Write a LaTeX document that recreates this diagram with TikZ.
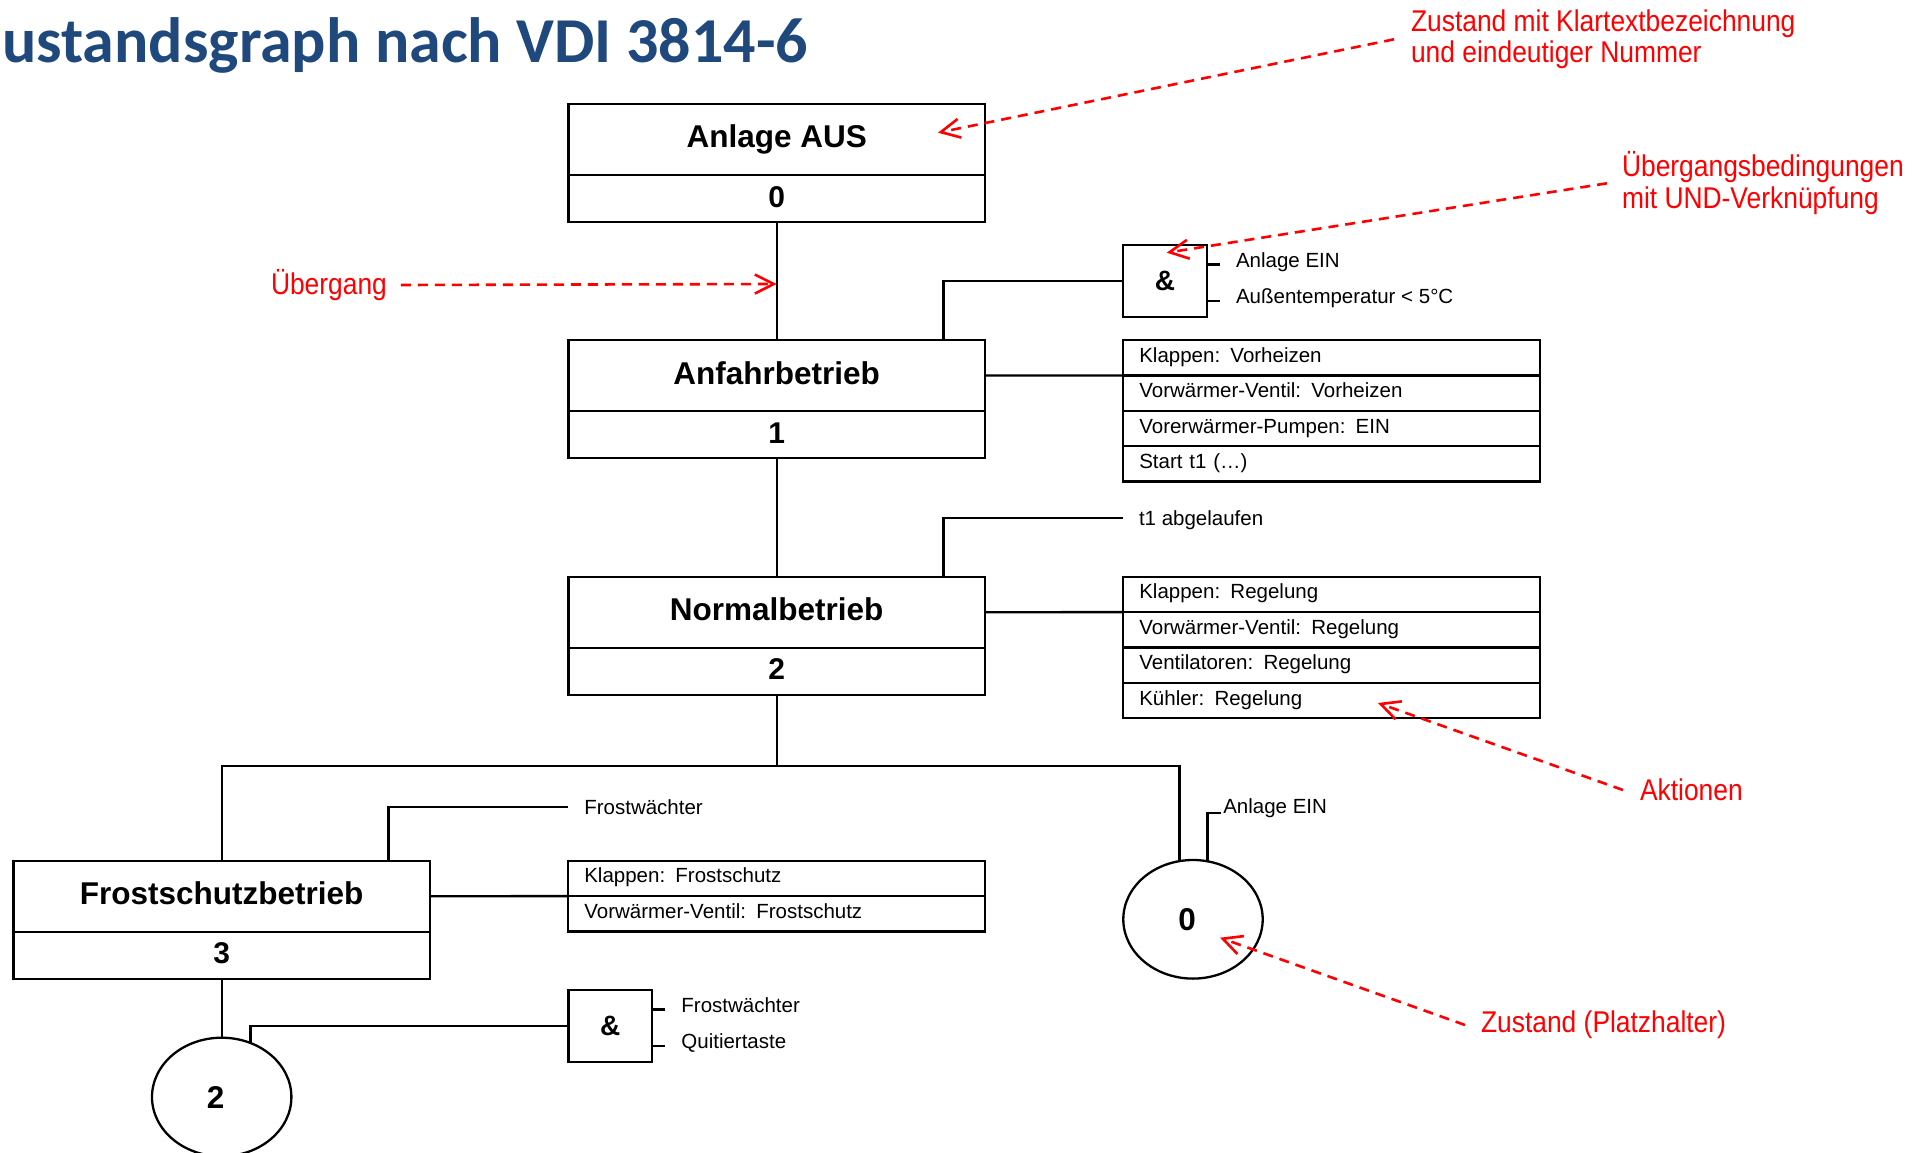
\documentclass[tikz,border=0pt]{standalone}
\usepackage{fontspec}
\setmainfont{Liberation Sans}
\newfontfamily\titlefont{Carlito}
\newfontfamily\redfont[FakeStretch=0.88]{Liberation Sans}
\usetikzlibrary{shapes.geometric,arrows.meta,calc}
\definecolor{titleblue}{RGB}{31,73,125}
\definecolor{annred}{RGB}{255,0,0}
\begin{document}
\begin{tikzpicture}[x=1pt,y=-1pt,
  every node/.style={outer sep=0pt},
  ln/.style={line width=2.3pt},
  stitle/.style={draw, line width=2.3pt, minimum width=416.7pt, minimum height=71pt, inner sep=0pt,
    text height=23pt, text depth=6pt, font=\fontsize{31.5}{36}\selectfont\bfseries},
  snum/.style={draw, line width=2.3pt, minimum width=416.7pt, minimum height=47.3pt, inner sep=0pt,
    text height=23pt, text depth=6pt, anchor=north, font=\fontsize{30}{36}\selectfont\bfseries},
  actrow/.style={draw, line width=2.3pt, anchor=north west, minimum height=35.4pt, text width=384.7pt,
    inner xsep=16pt, inner ysep=0pt, text height=14pt, text depth=5pt, align=left,
    font=\fontsize{20.5}{24}\selectfont},
  gate/.style={draw, line width=2.3pt, minimum width=83.4pt, minimum height=71.7pt, inner sep=0pt,
    font=\fontsize{28}{32}\selectfont\bfseries},
  lbl/.style={inner xsep=16pt, inner ysep=0pt, text height=14.6pt, text depth=0pt, anchor=west,
    font=\fontsize{20.5}{24}\selectfont},
  pstate/.style={draw, ellipse, line width=2.3pt, minimum width=139.4pt, minimum height=118.6pt,
    inner sep=0pt, font=\fontsize{31.5}{36}\selectfont\bfseries},
  ann/.style={inner sep=0pt, text=annred, align=left, font=\redfont\fontsize{30}{31.7}\selectfont},
  annarrow/.style={draw=annred, line width=2.6pt, dash pattern=on 10pt off 7pt,
    -{Straight Barb[length=19pt,width=19pt]}}
]
\useasboundingbox (0,0) rectangle (1912,1153);

% title
\node[anchor=base west, inner sep=0pt, text=titleblue,
  font={\titlefont\bfseries\fontsize{64}{70}\selectfont}] (title) at (2,63) {ustandsgraph nach VDI 3814-6};

% state boxes
\node[stitle] (s0t) at (776.7,139.5) {Anlage AUS};
\node[snum] (s0n) at (s0t.south) {0};
\node[stitle] (s1t) at (776.7,375.5) {Anfahrbetrieb};
\node[snum] (s1n) at (s1t.south) {1};
\node[stitle] (s2t) at (776.7,612.2) {Normalbetrieb};
\node[snum] (s2n) at (s2t.south) {2};
\node[stitle] (s3t) at (221.7,896.2) {Frostschutzbetrieb};
\node[snum] (s3n) at (s3t.south) {3};

% placeholder states
\node[pstate] (c0) at (1193,919.3) {\hspace*{-12pt}0};
\node[pstate] (c2) at (221.7,1097) {\hspace*{-12pt}2};

% actions
\node[actrow] (a1a) at (1123.3,340) {Klappen: Vorheizen};
\node[actrow] (a1b) at (a1a.south west) {Vorwärmer-Ventil: Vorheizen};
\node[actrow] (a1c) at (a1b.south west) {Vorerwärmer-Pumpen: EIN};
\node[actrow] (a1d) at (a1c.south west) {Start t1 (…)};

\node[actrow] (a2a) at (1123.3,576.7) {Klappen: Regelung};
\node[actrow] (a2b) at (a2a.south west) {Vorwärmer-Ventil: Regelung};
\node[actrow] (a2c) at (a2b.south west) {Ventilatoren: Regelung};
\node[actrow] (a2d) at (a2c.south west) {Kühler: Regelung};

\node[actrow] (a3a) at (568.3,860.7) {Klappen: Frostschutz};
\node[actrow] (a3b) at (a3a.south west) {Vorwärmer-Ventil: Frostschutz};

% gates
\node[gate] (g1) at (1165,280.9) {\&};
\node[gate] (g2) at (610.3,1025.9) {\&};

\coordinate (g1i1) at ($(g1.north east)!0.27!(g1.south east)$);
\coordinate (g1i2) at ($(g1.north east)!0.78!(g1.south east)$);
\node[lbl] (g1l1) at ($(g1i1)+(13.3,-4)$) {Anlage EIN};
\node[lbl] (g1l2) at ($(g1i2)+(13.3,-5)$) {Außentemperatur \textless{} 5°C};
\draw[ln] (g1i1) -- (g1i1 -| g1l1.west);
\draw[ln] (g1i2) -- (g1i2 -| g1l2.west);

\coordinate (g2i1) at ($(g2.north east)!0.27!(g2.south east)$);
\coordinate (g2i2) at ($(g2.north east)!0.78!(g2.south east)$);
\node[lbl] (g2l1) at ($(g2i1)+(13.4,-4)$) {Frostwächter};
\node[lbl] (g2l2) at ($(g2i2)+(13.4,-5)$) {Quitiertaste};
\draw[ln] (g2i1) -- (g2i1 -| g2l1.west);
\draw[ln] (g2i2) -- (g2i2 -| g2l2.west);

% transition labels
\node[lbl] (t1l) at (1123,517.7) {t1 abgelaufen};
\node[lbl] (fwl) at (568.3,806.7) {Frostwächter};
\node[lbl, anchor=base west, inner xsep=2.6pt] (c0l) at (1220.7,813.3) {Anlage EIN};

% connectors
\draw[ln] (s0n.south) -- (s1t.north);
\draw[ln] (s1n.south) -- (s2t.north);
\draw[ln] ($(s1t.north west)!0.9!(s1t.north east)$) |- (g1.west);
\draw[ln] (s1t.east) -- (a1a.south west);
\draw[ln] ($(s2t.north west)!0.9!(s2t.north east)$) |- (t1l.west);
\draw[ln] (s2t.east) -- (a2a.south west);
\coordinate (bus) at (776.7,765.7);
\draw[ln] (s2n.south) -- (bus);
\draw[ln] (s3t.north) |- (bus);
\draw[ln] (c0.103.3) |- (bus);
\draw[ln] (c0.76.7) |- (c0l.base west);
\draw[ln] ($(s3t.north west)!0.9!(s3t.north east)$) |- (fwl.west);
\draw[ln] (s3t.east) -- (a3a.south west);
\draw[ln] (s3n.south) -- (c2.north);
\draw[ln] (c2.62.7) |- (g2.west);

% annotations
\node[ann, anchor=west] (ann1) at (1411,39.3) {Zustand mit Klartextbezeichnung\\und eindeutiger Nummer};
\node[ann, anchor=west] (ann2) at (1622,183.3) {Übergangsbedingungen\\mit UND-Verknüpfung};
\node[ann, anchor=west] (ann3) at (271,285) {Übergang};
\node[ann, anchor=west] (ann4) at (1640,790) {Aktionen};
\node[ann, anchor=west] (ann5) at (1481,1025) {Zustand (Platzhalter)};

\coordinate (tip1) at (938,132.7);
\coordinate (tip2) at (1166.7,252.7);
\coordinate (tip3) at (776.7,284);
\coordinate (tip4) at (1378,703);
\coordinate (tip5) at (1220,937.7);

\draw[annarrow] ([xshift=-17pt]ann1.west) -- (tip1);
\draw[annarrow] ([xshift=-15pt]ann2.west) -- (tip2);
\draw[annarrow] ([xshift=14pt]ann3.east) -- (tip3);
\draw[annarrow] ([xshift=-17pt]ann4.west) -- (tip4);
\draw[annarrow] ([xshift=-16pt]ann5.west) -- (tip5);
\end{tikzpicture}
\end{document}
